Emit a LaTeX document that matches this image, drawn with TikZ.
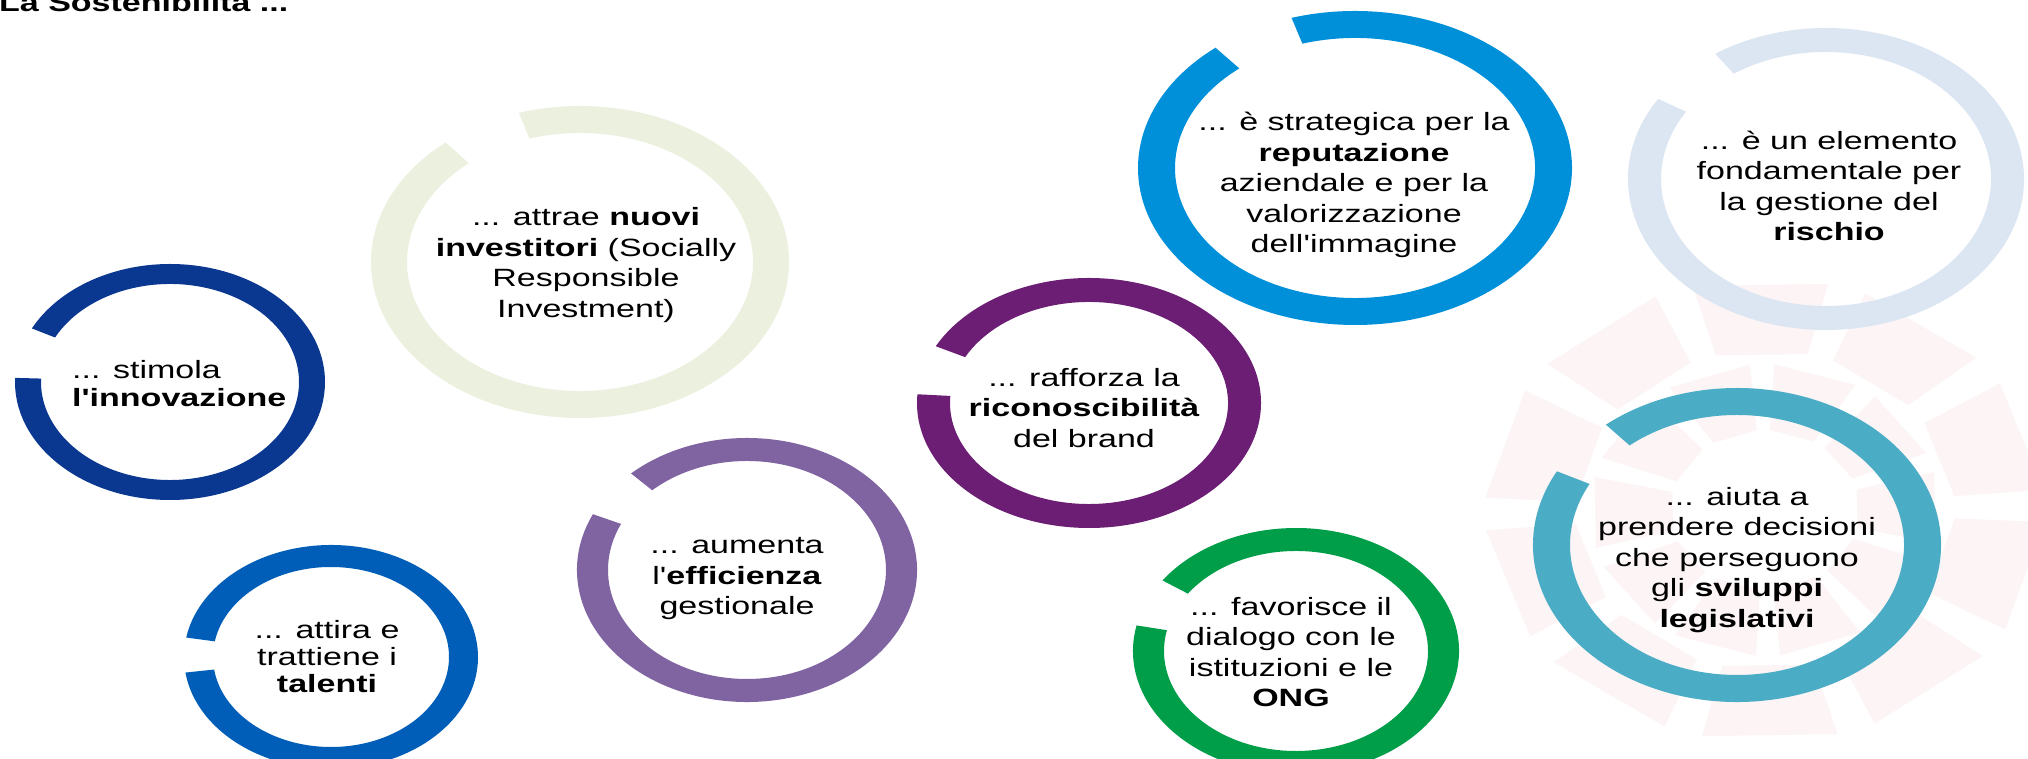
\documentclass[tikz,border=0pt]{standalone}
\usepackage{fontspec}
\setmainfont{Liberation Sans}[FakeStretch=1.36,Ligatures=TeXOff]
\usetikzlibrary{calc}
\definecolor{cNavy}{RGB}{10,56,145}
\definecolor{cSage}{RGB}{235,241,222}
\definecolor{cBlue}{RGB}{0,94,184}
\definecolor{cLav}{RGB}{128,100,162}
\definecolor{cPlum}{RGB}{108,30,116}
\definecolor{cSky}{RGB}{0,144,218}
\definecolor{cPale}{RGB}{220,230,242}
\definecolor{cTeal}{RGB}{75,172,198}
\definecolor{cGreen}{RGB}{0,158,73}
\definecolor{cBg}{RGB}{252,244,245}
% ring: cx, cy (image y, downwards), rx, ry, thickness x, thickness y, gap start, gap end, colour
\newcommand\ringseg[9]{%
  \pgfmathsetmacro\rgA{#8}%
  \pgfmathsetmacro\rgB{#7+360}%
  \pgfmathsetmacro\rgX{#3-#5}%
  \pgfmathsetmacro\rgY{#4-#6}%
  \pgfmathsetmacro\rgCy{759-#2}%
  \pgfmathsetmacro\pAx{#1+#3*cos(\rgA)}%
  \pgfmathsetmacro\pAy{\rgCy+#4*sin(\rgA)}%
  \pgfmathsetmacro\pBx{#1+\rgX*cos(\rgB)}%
  \pgfmathsetmacro\pBy{\rgCy+\rgY*sin(\rgB)}%
  \fill[#9] (\pAx,\pAy) arc[start angle=\rgA, end angle=\rgB, x radius=#3pt, y radius=#4pt]
    -- (\pBx,\pBy) arc[start angle=\rgB, end angle=\rgA, x radius=\rgX pt, y radius=\rgY pt] -- cycle;%
}
\tikzset{
  lbl/.style={align=center, inner sep=0pt, text=black, font=\fontsize{25}{30.5}\selectfont},
}
\begin{document}
\begin{tikzpicture}[x=1pt,y=1pt]
\useasboundingbox (0,0) rectangle (2028,759);
\fill[white] (0,0) rectangle (2028,759);
\clip (0,0) rectangle (2028,759);
% faint background pattern
\coordinate (bgc) at (1765,249);
\foreach \a in {5,41,...,329} {
  \fill[cBg] ($(bgc)+(\a:190pt and 160pt)$) -- ($(bgc)+(\a+28:190pt and 160pt)$)
    -- ($(bgc)+(\a+28:280pt and 232pt)$) -- ($(bgc)+(\a:280pt and 232pt)$) -- cycle;
}
\foreach \a in {23,59,...,347} {
  \fill[cBg] ($(bgc)+(\a:95pt and 80pt)$) -- ($(bgc)+(\a+28:95pt and 80pt)$)
    -- ($(bgc)+(\a+28:175pt and 146pt)$) -- ($(bgc)+(\a:175pt and 146pt)$) -- cycle;
}
% rings
\ringseg{170}{382}{155}{118}{26}{20}{153}{178}{cNavy}
\ringseg{580}{262}{209}{156}{36}{27}{107}{130}{cSage}
\ringseg{331}{657}{147}{112}{29}{22}{170}{188}{cBlue}
\ringseg{747}{570}{170}{132}{31}{23}{133}{155}{cLav}
\ringseg{1089}{403}{172}{125}{33}{24}{153}{176}{cPlum}
\ringseg{1355}{168}{217}{157}{37}{27}{107}{130}{cSky}
\ringseg{1826}{179}{198}{151}{33}{24}{124}{148}{cPale}
\ringseg{1737}{545}{204}{157}{37}{27}{130}{152}{cTeal}
\ringseg{1296}{651}{163}{123}{31}{23}{145}{168}{cGreen}
% title
\node[inner sep=0pt, anchor=base west, font=\fontsize{25}{30}\selectfont\bfseries] (title) at (-1,747) {La Sostenibilità ...};
% texts
\node[lbl, align=left, anchor=west, font=\fontsize{25}{28}\selectfont] (n1) at (72,375) {... stimola\\\textbf{l'innovazione}};
\node[lbl] (n2) at (586,494) {... attrae \textbf{nuovi}\\\textbf{investitori} (Socially\\Responsible\\Investment)};
\node[lbl, font=\fontsize{25}{27}\selectfont] (n3) at (327,102) {... attira e\\trattiene i\\\textbf{talenti}};
\node[lbl] (n4) at (737,180) {... aumenta\\l'\textbf{efficienza}\\gestionale};
\node[lbl] (n5) at (1084,351) {... rafforza la\\\textbf{riconoscibilità}\\del brand};
\node[lbl] (n6) at (1354,574) {... è strategica per la\\\textbf{reputazione}\\aziendale e per la\\valorizzazione\\dell'immagine};
\node[lbl] (n7) at (1829,573) {... è un elemento\\fondamentale per\\la gestione del\\\textbf{rischio}};
\node[lbl] (n8) at (1737,199) {... aiuta a\\prendere decisioni\\che perseguono\\gli \textbf{sviluppi}\\\textbf{legislativi}};
\node[lbl] (n9) at (1291,107) {... favorisce il\\dialogo con le\\istituzioni e le\\\textbf{ONG}};
\end{tikzpicture}
\end{document}
